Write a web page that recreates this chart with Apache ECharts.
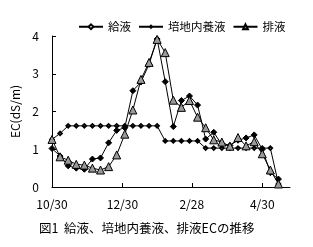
<!DOCTYPE html>
<html>
<head>
<meta charset="utf-8">
<script src="https://cdn.jsdelivr.net/npm/echarts@6/dist/echarts.min.js"></script>
<style>
html,body{margin:0;padding:0;background:#fff;}
#c{width:313px;height:247px;}
</style>
</head>
<body>
<div id="c"></div>
<script>
// days since 10/30
var days = [0,7,14,21,28,35,42,49,56,63,70,77,84,91,98,105,112,119,126,133,140,147,154,161,168,175,182,189,196];
var feed = [1.26,1.42,1.62,1.62,1.62,1.62,1.62,1.62,1.62,1.62,1.62,1.62,1.62,1.62,1.22,1.22,1.22,1.22,1.22,1.03,1.03,1.03,1.03,1.03,1.03,1.03,1.03,1.03,0.08];
var medium = [1.02,0.82,0.56,0.5,0.47,0.74,0.77,1.17,1.5,1.57,2.55,2.78,3.25,3.92,2.79,1.6,2.29,2.41,2.17,1.27,1.45,1.12,1.1,1.24,1.3,1.38,1.0,0.38,0.21];
var drain = [1.26,0.8,0.71,0.6,0.58,0.5,0.45,0.54,0.85,1.4,2.04,2.85,3.3,3.91,3.56,2.3,2.11,2.29,1.85,1.57,1.25,1.19,1.08,1.31,1.09,1.2,0.88,0.45,0.08];
var tickDays = [0,61,121,182];
var tickLabels = ['10/30','12/30','2/28','4/30'];
var seriesNames = ['給液','培地内養液','排液'];

function pairs(arr){ return days.map(function(d,i){ return [d, arr[i]]; }); }
var FONT = '"Noto Sans CJK JP", sans-serif';
var chart = echarts.init(document.getElementById('c'), null, {renderer:'canvas'});
chart.setOption({
  animation:false,
  backgroundColor:'#fff',
  textStyle:{fontFamily:FONT},
  title:{
    text:'図1  給液、培地内養液、排液ECの推移',
    left:34, top:217,
    textStyle:{fontSize:12.5, fontWeight:'normal', color:'#000', fontFamily:FONT}
  },
  legend:{
    left:73, top:16,
    itemWidth:24, itemHeight:6, itemGap:7,
    textStyle:{fontSize:11.5, color:'#000', fontFamily:FONT},
    data:seriesNames
  },
  grid:{left:52, right:23, top:36, bottom:60, containLabel:false},
  xAxis:{
    type:'value', min:0, max:206,
    axisLine:{lineStyle:{color:'#000', width:1}},
    axisTick:{inside:true, length:4, customValues:tickDays, lineStyle:{color:'#000'}},
    axisLabel:{customValues:tickDays, margin:11, fontSize:12, color:'#000', fontFamily:FONT,
      formatter:function(v){ var i = tickDays.indexOf(Math.round(v)); return i>=0 ? tickLabels[i] : ''; }},
    splitLine:{show:false}
  },
  yAxis:{
    type:'value', min:0, max:4, interval:1,
    name:'EC(dS/m)', nameLocation:'middle', nameGap:21, nameRotate:90,
    nameTextStyle:{fontSize:12, color:'#000', fontFamily:FONT},
    axisLine:{show:true, lineStyle:{color:'#000', width:1}},
    axisTick:{show:true, inside:true, length:4, lineStyle:{color:'#000'}},
    axisLabel:{margin:13, fontSize:12, color:'#000', fontFamily:FONT},
    splitLine:{show:false}
  },
  series:[
    {name:seriesNames[0], type:'line', data:pairs(feed), symbol:'emptyDiamond', symbolSize:3.5,
     lineStyle:{color:'#000', width:1}, itemStyle:{color:'#000', borderColor:'#000', borderWidth:0.6}, z:2},
    {name:seriesNames[1], type:'line', data:pairs(medium), symbol:'diamond', symbolSize:6,
     lineStyle:{color:'#000', width:1}, itemStyle:{color:'#000', borderColor:'#000'}, z:3},
    {name:seriesNames[2], type:'line', data:pairs(drain), symbol:'triangle', symbolSize:8,
     lineStyle:{color:'#000', width:1}, itemStyle:{color:'#999', borderColor:'#000', borderWidth:1}, z:4}
  ]
});
</script>
</body>
</html>
